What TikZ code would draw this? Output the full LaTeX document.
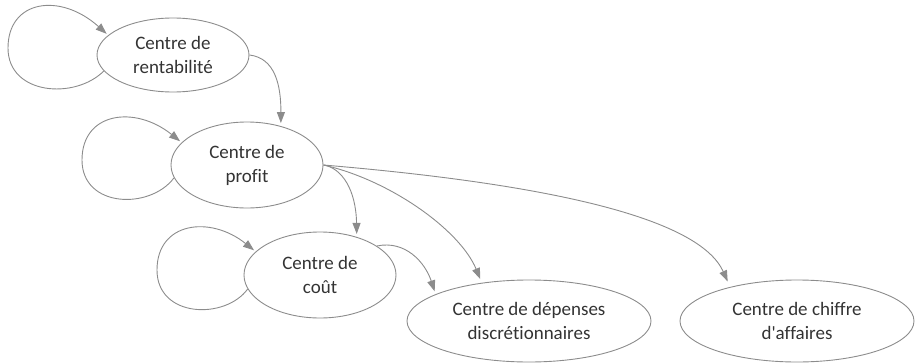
\documentclass[tikz,border=0pt]{standalone}
\usepackage{fontspec}
\setmainfont{Carlito}[Ligatures=NoCommon]
\usetikzlibrary{shapes.geometric,arrows.meta}
\definecolor{linegray}{HTML}{8C8C8C}
\definecolor{textgray}{HTML}{333333}
\newcommand{\straightapos}{\XeTeXglyph\XeTeXcharglyph"27\relax}
\tikzset{
  ell/.style={ellipse, draw=linegray, line width=0.9pt, inner sep=0pt, align=center,
    text=textgray, font=\fontsize{19}{24}\selectfont},
  conn/.style={draw=linegray, line width=0.9pt, -{Triangle[length=11pt,width=8pt]}, shorten >=3pt}
}
\begin{document}
\begin{tikzpicture}[x=1pt,y=-1pt]
\useasboundingbox (0,0) rectangle (916,364);
\node[ell, minimum width=152pt, minimum height=74pt] (r) at (173,55) {Centre de\\rentabilité};
\node[ell, minimum width=152pt, minimum height=86pt] (p) at (247,165) {Centre de\\profit};
\node[ell, minimum width=152pt, minimum height=86pt] (c) at (320,275) {Centre de\\coût};
\node[ell, minimum width=244pt, minimum height=82pt] (d) at (529,321) {Centre de dépenses\\discrétionnaires};
\node[ell, minimum width=234pt, minimum height=82pt] (a) at (797,321) {Centre de chiffre\\d\straightapos affaires};
% self loops
\draw[conn, shorten >=2pt] (r.193) .. controls (75,100) and (8,95) .. (8,48) .. controls (8,0) and (60,-8) .. (r.163);
\draw[conn, shorten >=2pt] (p.190) .. controls (150,210) and (82,208) .. (82,160) .. controls (82,112) and (135,105) .. (p.161);
\draw[conn, shorten >=2pt] (c.191) .. controls (225,320) and (157,318) .. (157,270) .. controls (157,222) and (210,215) .. (c.160);
% edges
\draw[conn] (r.east) .. controls (275,58) and (281,85) .. (p.49);
\draw[conn] (p.east) .. controls (342,168) and (356,190) .. (c.46.5);
\draw[conn, shorten >=4pt] (p.east) .. controls (390,180) and (460,230) .. (d.141);
\draw[conn, shorten >=6pt] (p.east) .. controls (560,185) and (700,220) .. (a.153);
\draw[conn] (c.27) .. controls (405,240) and (425,262) .. (d.164.5);
\end{tikzpicture}
\end{document}
